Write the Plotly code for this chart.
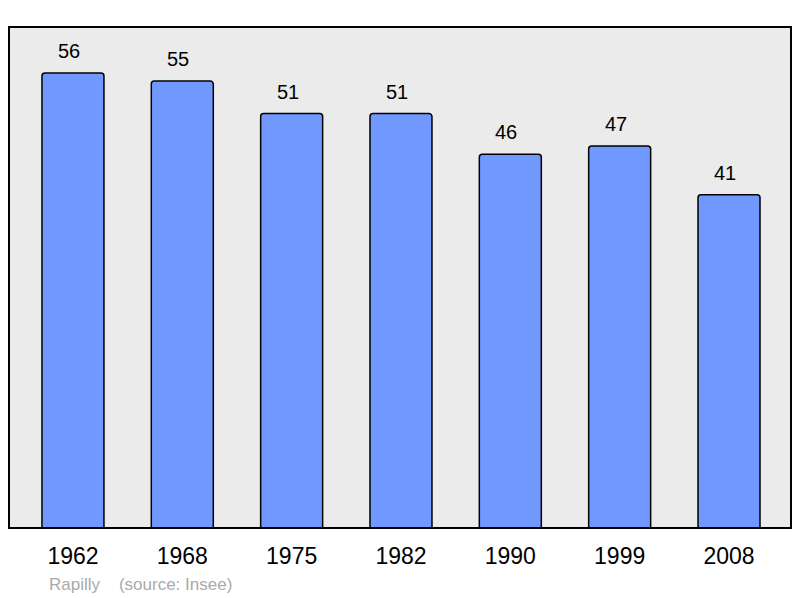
import plotly.graph_objects as go

years = ["1962", "1968", "1975", "1982", "1990", "1999", "2008"]
population = [56, 55, 51, 51, 46, 47, 41]

fig = go.Figure()
fig.add_trace(go.Bar(
    x=list(range(len(years))), y=population,
    width=0.567,
    marker=dict(color="#7098FF", line=dict(color="#000000", width=1.5), cornerradius=3),
    hoverinfo="skip",
))
for i, v in enumerate(population):
    fig.add_annotation(x=i, y=v, text=str(v), showarrow=False, yanchor="bottom",
                       yshift=9, xshift=-4,
                       font=dict(size=20, color="#000000", family="Liberation Sans, Arial"))

fig.add_shape(type="rect", xref="paper", yref="paper", x0=0, y0=0, x1=1, y1=1,
              line=dict(color="#000000", width=2), layer="above")

fig.add_annotation(xref="paper", yref="paper", x=(47-9)/782, y=-(584-528)/501,
                   xanchor="left", yanchor="middle", showarrow=False,
                   text="Rapilly&nbsp;&nbsp;&nbsp;&nbsp;(source: Insee)",
                   font=dict(size=17, color="#AAAAAA", family="Liberation Sans, Arial"))

fig.update_layout(
    width=800, height=598,
    margin=dict(l=9, r=9, t=27, b=70, autoexpand=False),
    paper_bgcolor="#FFFFFF", plot_bgcolor="#EBEBEB",
    showlegend=False,
    font=dict(family="Liberation Sans, Arial"),
    xaxis=dict(range=[-0.585, 6.567], tickmode="array", tickvals=list(range(len(years))),
               ticktext=years, showgrid=False, zeroline=False, ticks="",
               ticklabelstandoff=12,
               tickfont=dict(size=23, color="#000000")),
    yaxis=dict(range=[0, 61.66], showticklabels=False, showgrid=False, zeroline=False, ticks=""),
)
fig.write_html("out.html", config={"displayModeBar": False, "staticPlot": True},
               post_script="document.body.style.margin='0';document.body.style.overflow='hidden';")
